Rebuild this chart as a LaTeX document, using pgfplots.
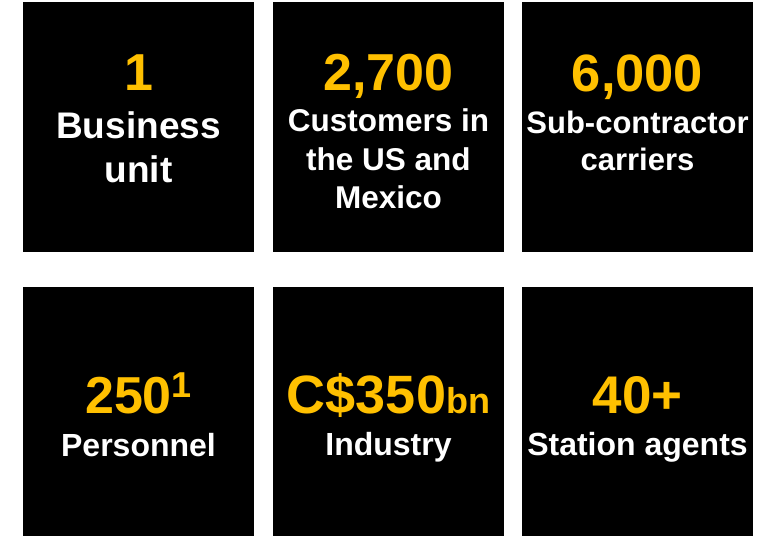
\documentclass[border=0pt]{standalone}
\usepackage{pgfplots}
\pgfplotsset{compat=1.18}
\usepackage{fontspec}
\setmainfont{Liberation Sans}
\definecolor{gold}{HTML}{FFC000}
\newcommand{\fs}[1]{\fontsize{#1}{#1}\selectfont\bfseries}
\begin{document}
\begin{tikzpicture}
\begin{axis}[width=769pt,height=536pt,scale only axis,hide axis,
  xmin=0,xmax=769,ymin=0,ymax=536,y dir=reverse,clip=false]
% tiles: corners in pixels (x left, x right, y top, y bottom)
\addplot[fill=black,draw=none] coordinates {(23,2) (254,2) (254,252) (23,252)} -- cycle;
\addplot[fill=black,draw=none] coordinates {(273,2) (504,2) (504,252) (273,252)} -- cycle;
\addplot[fill=black,draw=none] coordinates {(522,2) (753,2) (753,252) (522,252)} -- cycle;
\addplot[fill=black,draw=none] coordinates {(23,287) (254,287) (254,536) (23,536)} -- cycle;
\addplot[fill=black,draw=none] coordinates {(273,287) (504,287) (504,536) (273,536)} -- cycle;
\addplot[fill=black,draw=none] coordinates {(522,287) (753,287) (753,536) (522,536)} -- cycle;
% top row
\node[anchor=base,text=gold,font=\fs{52}] at (axis cs:138.5,90) {1};
\node[anchor=base,text=white,font=\fs{37}] at (axis cs:138.5,138) {Business};
\node[anchor=base,text=white,font=\fs{37}] at (axis cs:138.5,182) {unit};
\node[anchor=base,text=gold,font=\fs{52}] at (axis cs:388.5,90) {2,700};
\node[anchor=base,text=white,font=\fs{31.5}] at (axis cs:388.5,131) {Customers in};
\node[anchor=base,text=white,font=\fs{31.5}] at (axis cs:388.5,170) {the US and};
\node[anchor=base,text=white,font=\fs{31.5}] at (axis cs:388.5,208) {Mexico};
\node[anchor=base,text=gold,font=\fs{52.5}] at (axis cs:637.5,91) {6,000};
\node[anchor=base,text=white,font=\fs{31}] at (axis cs:637.5,133) {Sub-contractor};
\node[anchor=base,text=white,font=\fs{31}] at (axis cs:637.5,170) {carriers};
% bottom row
\node[anchor=base,text=gold,font=\fs{52}] at (axis cs:138.5,413) {250\raisebox{16pt}{\fs{36}1}};
\node[anchor=base,text=white,font=\fs{32}] at (axis cs:138.5,456) {Personnel};
\node[anchor=base,text=gold,font=\fs{54}] at (axis cs:388.5,413) {C\$350{\fs{36}bn}};
\node[anchor=base,text=white,font=\fs{32}] at (axis cs:388.5,455) {Industry};
\node[anchor=base,text=gold,font=\fs{53}] at (axis cs:637.5,413) {40+};
\node[anchor=base,text=white,font=\fs{32}] at (axis cs:637.5,455) {Station agents};
\end{axis}
\path (current axis.south west) rectangle (current axis.north east);
\end{tikzpicture}
\end{document}
